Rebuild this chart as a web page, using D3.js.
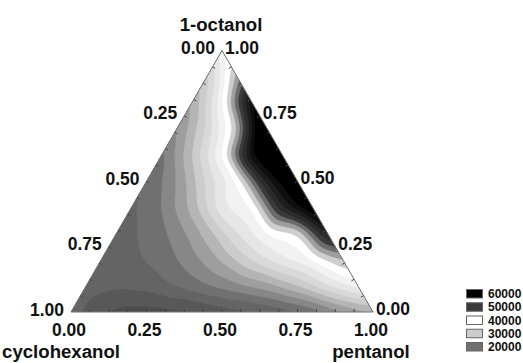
<!DOCTYPE html>
<html><head><meta charset="utf-8">
<script src="https://cdn.jsdelivr.net/npm/d3@7"></script>
<style>body{margin:0;background:#fff;overflow:hidden}</style>
</head><body>
<script>
// ---------------- data ----------------
const topName = "1-octanol";
const leftName = "cyclohexanol";
const rightName = "pentanol";
const axisTicks = [0, 0.25, 0.5, 0.75, 1];
const tickLabels = ["0.00", "0.25", "0.50", "0.75", "1.00"];
const legendLevels = [60000, 50000, 40000, 30000, 20000];
const contourLevels = [12500,15000,17500,20000,22500,25000,27500,30000,32500,35000,37500,40000,42500,45000,47500,50000,52500,55000,57500,60000];
// grid of response values, one row per 1-octanol fraction (0.0 .. 1.0),
// each row lists pentanol fraction 0.0, 0.1, ... up to 1 - octanol
const octanol00 = [19000,15000,14000,14000,14500,16000,17000,18500,20500,24500,27000];
const octanol01 = [19000,18000,18500,20500,22500,24500,26500,30000,35000,39000];
const octanol02 = [19000,19500,21000,24000,28000,33000,37000,40000,45000];
const octanol03 = [19000,20500,23500,28500,35000,40000,42000,56000];
const octanol04 = [19500,22500,28500,37000,40000,55000,64000];
const octanol05 = [20000,25000,33000,40000,56000,66000];
const octanol06 = [21500,30000,40000,60000,70000];
const octanol07 = [24500,33000,44000,70000];
const octanol08 = [27000,39500,60000];
const octanol09 = [31000,46000];
const octanol10 = [38000];
const rows = [octanol00,octanol01,octanol02,octanol03,octanol04,octanol05,octanol06,octanol07,octanol08,octanol09,octanol10];

// ---------------- layout ----------------
const width = 523, height = 363;
const xBase = d3.scaleLinear().domain([0, 1]).range([71, 373]);
const yOct = d3.scaleLinear().domain([0, 1]).range([312, 50.5]);
const pt = (o, p) => [xBase(p + o / 2), yOct(o)];

const grayStops = [10000, 20000, 30000, 40000, 50000, 60000];
const grayColors = ["#404040", "#707070", "#cccccc", "#ffffff", "#3a3a3a", "#000000"];
const color = d3.scaleLinear().domain(grayStops).range(grayColors).clamp(true);

const svg = d3.select("body").append("svg").attr("width", width).attr("height", height)
  .style("font-family", "'Liberation Sans', Arial, sans-serif");

const A = pt(1, 0), B = pt(0, 0), C = pt(0, 1); // top, bottom-left, bottom-right
svg.append("clipPath").attr("id", "tri").append("path")
  .attr("d", `M${A}L${B}L${C}Z`);

// interpolate on ternary mesh
function valueAt(o, p) {
  const e = 1e-9;
  o = Math.max(0, Math.min(1 - e, o));
  p = Math.max(0, Math.min(1 - e, p));
  if (o + p > 1 - e) { const s = (1 - e) / (o + p); o *= s; p *= s; }
  const i = o * 10, j = p * 10;
  const i0 = Math.floor(i), j0 = Math.floor(j);
  const fi = i - i0, fj = j - j0;
  if (fi + fj <= 1) {
    return rows[i0][j0] * (1 - fi - fj) + rows[i0 + 1][j0] * fi + rows[i0][j0 + 1] * fj;
  }
  return rows[i0 + 1][j0 + 1] * (fi + fj - 1) + rows[i0 + 1][j0] * (1 - fj) + rows[i0][j0 + 1] * (1 - fi);
}

const pad = 12;
const x0 = Math.floor(B[0]) - pad, y0 = Math.floor(A[1]) - pad;
const n = Math.ceil(C[0]) - x0 + pad, m = Math.ceil(B[1]) - y0 + pad;
const W = xBase(1) - xBase(0);
const grid = new Float64Array(n * m);
for (let jy = 0; jy < m; jy++) {
  for (let ix = 0; ix < n; ix++) {
    const px = x0 + ix + 0.5, py = y0 + jy + 0.5;
    const o = yOct.invert(py);
    const p = (px - xBase(0)) / W - o / 2;
    grid[ix + jy * n] = valueAt(o, p);
  }
}
if (d3.blur2) d3.blur2({data: grid, width: n, height: m}, 5);
const contours = d3.contours().size([n, m]).thresholds(contourLevels)(grid);
const gC = svg.append("g").attr("clip-path", "url(#tri)");
gC.append("path").attr("d", `M${A}L${B}L${C}Z`).attr("fill", color(10000));
gC.append("g").attr("transform", `translate(${x0},${y0})`)
  .selectAll("path").data(contours).join("path")
  .attr("d", d3.geoPath())
  .attr("fill", d => color(d.value))
  .attr("stroke", d => color(d.value))
  .attr("stroke-width", 0.3);

// outline
svg.append("path").attr("d", `M${A}L${B}L${C}Z`)
  .attr("fill", "none").attr("stroke", "#777").attr("stroke-width", 1);

// minor ticks
const tickPos = d3.range(1, 16).map(k => k / 16);
const tk = svg.append("g").attr("stroke", "#444").attr("stroke-width", 1);
tickPos.forEach(t => {
  const b = pt(0, t);              // bottom edge
  tk.append("line").attr("x1", b[0]).attr("y1", b[1]).attr("x2", b[0]).attr("y2", b[1] - 3);
  const l = pt(t, 0);              // left edge
  tk.append("line").attr("x1", l[0]).attr("y1", l[1]).attr("x2", l[0] + 2.6).attr("y2", l[1] + 1.5);
  const r = pt(t, 1 - t);          // right edge
  tk.append("line").attr("x1", r[0]).attr("y1", r[1]).attr("x2", r[0] - 2.6).attr("y2", r[1] + 1.5);
});

// text helper (slightly condensed bold)
function label(x, y, txt, anchor, sx = 0.92) {
  svg.append("text")
    .attr("transform", `translate(${x},${y}) scale(${sx},1)`)
    .attr("text-anchor", anchor)
    .attr("font-weight", "bold")
    .attr("font-size", 19)
    .attr("fill", "#111")
    .text(txt);
}
// bottom axis (pentanol)
axisTicks.forEach((t, k) => { const q = pt(0, t); label(q[0] - 2, 336, tickLabels[k], "middle"); });
// left axis (cyclohexanol): c = t, point o = 1 - t, p = 0
axisTicks.forEach((t, k) => { const q = pt(1 - t, 0); label(q[0] - 7, q[1] + 3.5, tickLabels[k], "end"); });
// right axis (1-octanol): o = t, p = 1 - t
axisTicks.forEach((t, k) => { const q = pt(t, 1 - t); label(q[0] + 3, q[1] + 3, tickLabels[k], "start"); });

label(A[0] - 1, 31, topName, "middle", 0.98);
label(61, 358, leftName, "middle", 0.98);
label(371, 358, rightName, "middle", 0.98);

// legend
const lg = svg.append("g");
legendLevels.forEach((v, k) => {
  const y = 289 + k * 13.25;
  lg.append("rect").attr("x", 466.5).attr("y", y + 0.5).attr("width", 16).attr("height", 8.5)
    .attr("fill", color(v)).attr("stroke", "#666").attr("stroke-width", 1);
  lg.append("text").attr("x", 488).attr("y", y + 9).attr("font-size", 12)
    .attr("font-weight", "bold").attr("fill", "#111").text(v);
});
</script>
</body></html>
